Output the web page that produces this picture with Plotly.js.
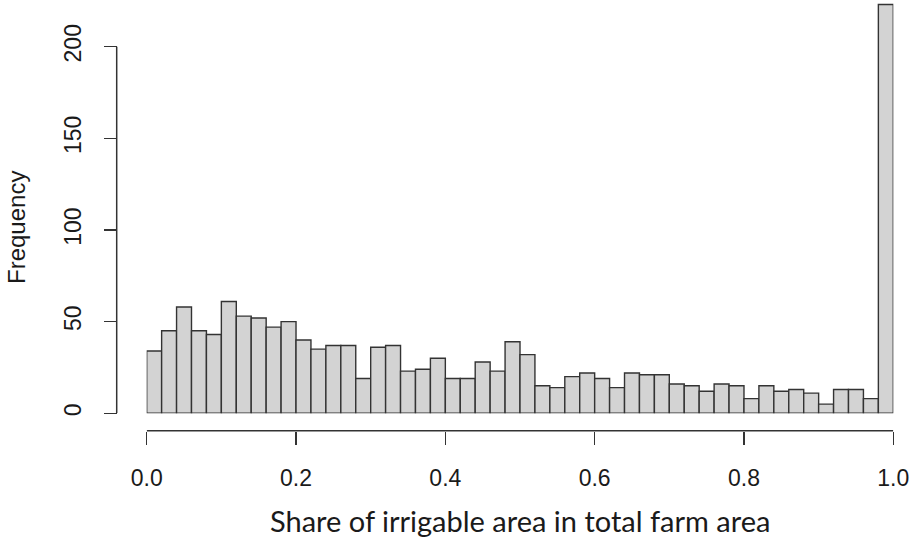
<!DOCTYPE html>
<html>
<head>
<meta charset="utf-8">
<script src="https://cdn.plot.ly/plotly-3.0.1.min.js"></script>
<style>html,body{margin:0;padding:0;background:#fff;}#chart{width:910px;height:542px;}</style>
</head>
<body>
<div id="chart"></div>
<script>
// Histogram: 50 bins of width 0.02 from 0 to 1
const binStart = 0;
const binWidth = 0.02;
const counts = [34, 45, 58, 45, 43, 61, 53, 52, 47, 50,
                40, 35, 37, 37, 19, 36, 37, 23, 24, 30,
                19, 19, 28, 23, 39, 32, 15, 14, 20, 22,
                19, 14, 22, 21, 21, 16, 15, 12, 16, 15,
                8, 15, 12, 13, 11, 5, 13, 13, 8, 223];
const xTickVals = [0, 0.2, 0.4, 0.6, 0.8, 1.0];
const xTickText = ["0.0", "0.2", "0.4", "0.6", "0.8", "1.0"];
const yTickVals = [0, 50, 100, 150, 200];
const yTickText = ["0", "50", "100", "150", "200"];
const xTitle = "Share of irrigable area in total farm area";
const yTitle = "Frequency";

const W = 910, H = 542;
const xPix0 = 146.7, xPix1 = 893.3;   // x=0 and x=1
const yPix0 = 413.3, pxPerUnit = 1.833; // y=0 pixel, scale
const xAxisLinePix = 430.7;
const yAxisLinePix = 116.7;

const centers = counts.map((c, i) => binStart + binWidth * i + binWidth / 2);

const axisColor = '#333333';
const tickFont = {family: 'Liberation Sans, Arial, sans-serif', size: 23, color: '#1a1a1a'};

const trace = {
  type: 'bar',
  x: centers,
  y: counts,
  width: counts.map(() => binWidth),
  marker: {color: '#d3d3d3', line: {color: '#333333', width: 1.4}},
  hoverinfo: 'x+y'
};

const layout = {
  width: W, height: H,
  margin: {l: 0, r: 0, t: 0, b: 0, pad: 0},
  paper_bgcolor: '#ffffff', plot_bgcolor: 'rgba(0,0,0,0)',
  showlegend: false,
  bargap: 0,
  xaxis: {
    domain: [xPix0 / W, xPix1 / W],
    range: [0, 1],
    anchor: 'free',
    position: 1 - xAxisLinePix / H,
    tickmode: 'array', tickvals: xTickVals, ticktext: xTickText,
    ticks: 'outside', ticklen: 13, tickwidth: 1.5, tickcolor: axisColor,
    showline: false, showgrid: false, zeroline: false,
    tickfont: tickFont,
    ticklabelstandoff: 14
  },
  yaxis: {
    domain: [1 - yPix0 / H, 1],
    range: [0, yPix0 / pxPerUnit],
    anchor: 'free',
    position: yAxisLinePix / W,
    tickmode: 'array', tickvals: yTickVals, ticktext: yTickText,
    ticks: 'outside', ticklen: 13, tickwidth: 1.5, tickcolor: axisColor,
    tickangle: -90,
    showline: false, showgrid: false, zeroline: false,
    tickfont: tickFont,
    ticklabelstandoff: 14
  },
  shapes: [
    {type: 'line', xref: 'x', yref: 'paper', x0: xTickVals[0], x1: xTickVals[xTickVals.length - 1],
     y0: 1 - xAxisLinePix / H, y1: 1 - xAxisLinePix / H, line: {color: axisColor, width: 1.5}},
    {type: 'line', xref: 'paper', yref: 'y', x0: yAxisLinePix / W, x1: yAxisLinePix / W,
     y0: yTickVals[0], y1: yTickVals[yTickVals.length - 1], line: {color: axisColor, width: 1.5}}
  ],
  annotations: [
    {text: xTitle, xref: 'paper', yref: 'paper', x: 520 / W, y: 1 - 520 / H,
     xanchor: 'center', yanchor: 'middle', showarrow: false,
     font: {family: 'Lato, Carlito, Calibri, sans-serif', size: 29, color: '#1a1a1a'}},
    {text: yTitle, xref: 'paper', yref: 'paper', x: 16 / W, y: 1 - 228 / H,
     xanchor: 'center', yanchor: 'middle', showarrow: false, textangle: -90,
     font: {family: 'Liberation Sans, Arial, sans-serif', size: 24, color: '#1a1a1a'}}
  ]
};

Plotly.newPlot('chart', [trace], layout, {displayModeBar: false, staticPlot: true});
</script>
</body>
</html>
